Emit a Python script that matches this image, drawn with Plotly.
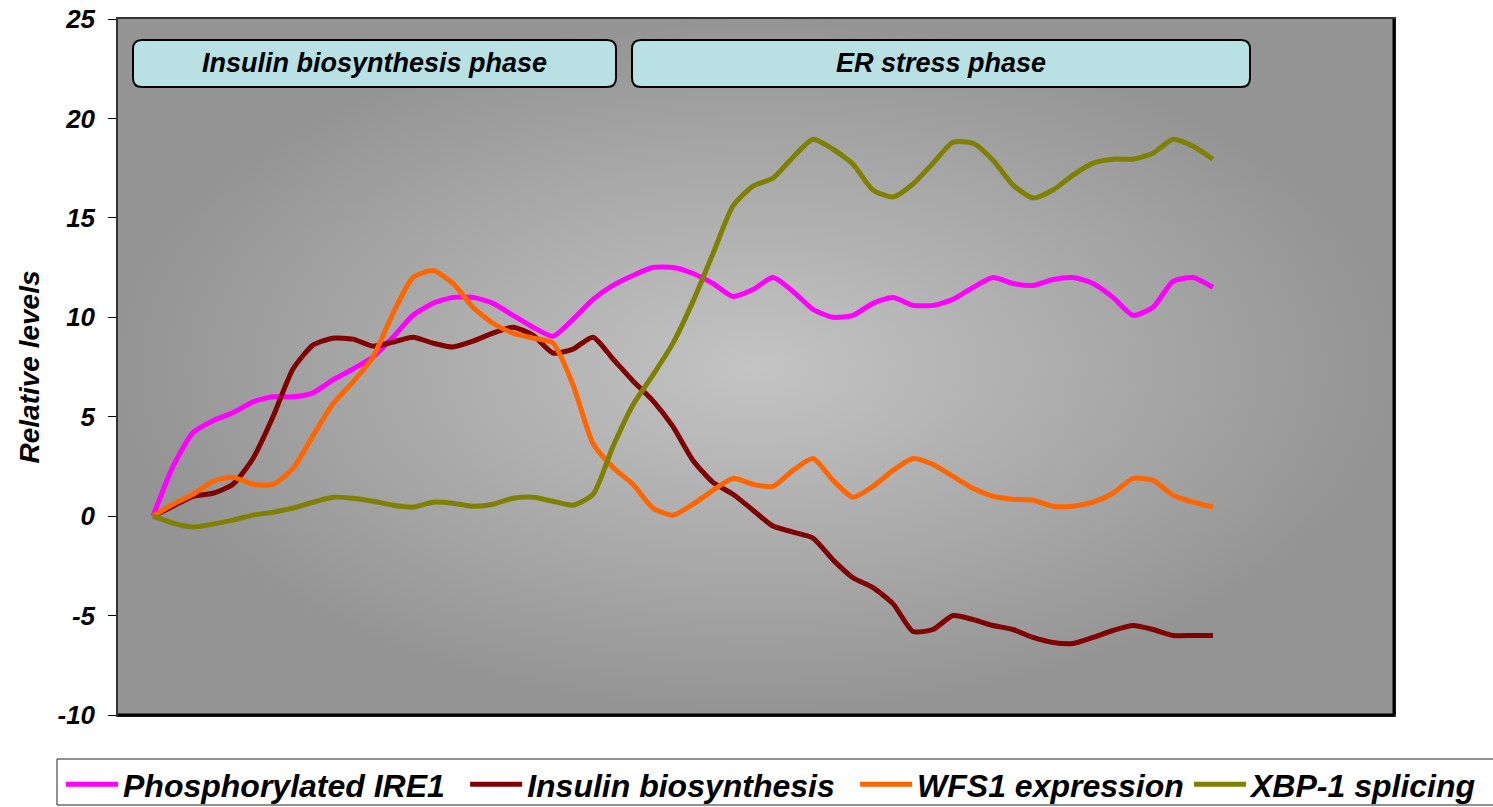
import plotly.graph_objects as go

# Time points (arbitrary units, evenly spaced)
t = list(range(54))

ire1 = [0, 2.5, 4.2, 4.8, 5.2, 5.75, 6.0, 6.0, 6.2, 6.85, 7.4, 8.0, 9.0, 10.1, 10.7, 11.0,
        11.0, 10.7, 10.1, 9.5, 9.05, 9.9, 10.9, 11.6, 12.1, 12.5, 12.5, 12.2, 11.7, 11.05,
        11.4, 12.0, 11.3, 10.4, 10.0, 10.1, 10.7, 11.0, 10.6, 10.6, 10.9, 11.5, 12.0, 11.7,
        11.6, 11.9, 12.0, 11.7, 11.0, 10.1, 10.5, 11.8, 12.0, 11.5]

insulin = [0, 0.5, 1.0, 1.15, 1.6, 2.9, 5.0, 7.4, 8.6, 8.95, 8.9, 8.55, 8.75, 9.0, 8.7, 8.5,
           8.8, 9.2, 9.5, 9.1, 8.2, 8.4, 9.0, 7.9, 6.8, 5.8, 4.5, 2.8, 1.7, 1.1,
           0.3, -0.5, -0.8, -1.1, -2.2, -3.1, -3.6, -4.4, -5.8, -5.7, -5.0, -5.2, -5.5, -5.7,
           -6.1, -6.35, -6.4, -6.1, -5.75, -5.5, -5.7, -6.0, -6.0, -6.0]

wfs1 = [0, 0.6, 1.1, 1.75, 1.95, 1.6, 1.6, 2.4, 4.05, 5.65, 6.75, 8.0, 10.2, 12.0, 12.35, 11.7,
        10.5, 9.7, 9.2, 8.95, 8.7, 6.6, 3.65, 2.45, 1.6, 0.4, 0.05, 0.6, 1.3, 1.9,
        1.6, 1.5, 2.3, 2.9, 1.8, 0.95, 1.5, 2.3, 2.9, 2.6, 2.0, 1.4, 1.0, 0.85,
        0.8, 0.5, 0.5, 0.7, 1.15, 1.9, 1.8, 1.05, 0.7, 0.45]

xbp1 = [0, -0.35, -0.55, -0.4, -0.2, 0.05, 0.2, 0.4, 0.7, 0.95, 0.9, 0.75, 0.55, 0.45, 0.7, 0.65,
        0.5, 0.6, 0.9, 0.95, 0.75, 0.55, 1.1, 3.5, 5.6, 7.1, 8.7, 10.8, 13.2, 15.6,
        16.6, 17.0, 18.05, 18.95, 18.45, 17.7, 16.4, 16.05, 16.7, 17.75, 18.8, 18.75, 17.9, 16.65,
        16.0, 16.4, 17.15, 17.75, 17.95, 17.95, 18.25, 18.95, 18.6, 17.95]

series = [
    ("Phosphorylated IRE1", ire1, "#FF00FF"),
    ("Insulin biosynthesis", insulin, "#800000"),
    ("WFS1 expression", wfs1, "#FF6600"),
    ("XBP-1 splicing", xbp1, "#808000"),
]

phases = ["Insulin biosynthesis phase", "ER stress phase"]

W, H = 1493, 807
ML, MR, MT, MB = 118, 99, 19, 92
PW, PH = W - ML - MR, H - MT - MB

X_RANGE = [-1.75, 62.05]
Y_RANGE = [-10, 25]

FONT = "Liberation Sans, Arial, sans-serif"
BI = dict(family=FONT, color="black", weight="bold", style="italic")


def px_to_paper(x, y):
    return (x - ML) / PW, (H - MB - y) / PH


fig = go.Figure()

# shaded plot background with a radial gradient
fig.add_trace(go.Scatter(
    x=[X_RANGE[0], X_RANGE[1], X_RANGE[1], X_RANGE[0], X_RANGE[0]],
    y=[Y_RANGE[0], Y_RANGE[0], Y_RANGE[1], Y_RANGE[1], Y_RANGE[0]],
    mode="lines", line=dict(width=0), fill="toself",
    fillgradient=dict(type="radial",
                      colorscale=[[0, "#c4c4c4"], [1, "#949494"]]),
    hoverinfo="skip", showlegend=False,
))

# the last entry sits in its own legend so the row can run to the page edge
for k, (name, vals, color) in enumerate(series):
    last = k == len(series) - 1
    fig.add_trace(go.Scatter(
        x=t, y=vals, name=name if last else name + "\u00a0\u2009", mode="lines",
        legend="legend2" if last else "legend",
        line=dict(color=color, width=5, shape="spline", smoothing=0.6),
    ))


def rounded_box(x0, y0, x1, y1, r):
    p = lambda x, y: "%.5f,%.5f" % px_to_paper(x, y)
    return (f"M {p(x0 + r, y0)} L {p(x1 - r, y0)} Q {p(x1, y0)} {p(x1, y0 + r)} "
            f"L {p(x1, y1 - r)} Q {p(x1, y1)} {p(x1 - r, y1)} "
            f"L {p(x0 + r, y1)} Q {p(x0, y1)} {p(x0, y1 - r)} "
            f"L {p(x0, y0 + r)} Q {p(x0, y0)} {p(x0 + r, y0)} Z")


boxes = [(133, 40, 616, 87), (632, 40, 1250, 87)]
for (x0, y0, x1, y1), label in zip(boxes, phases):
    fig.add_shape(type="path", xref="paper", yref="paper",
                  path=rounded_box(x0, y0, x1, y1, 9),
                  fillcolor="#b9e0e3", line=dict(color="black", width=2))
    cx, cy = px_to_paper((x0 + x1) / 2, (y0 + y1) / 2)
    fig.add_annotation(x=cx, y=cy, xref="paper", yref="paper", text=label,
                       showarrow=False, xanchor="center", yanchor="middle",
                       font=dict(BI, size=27))

# heavier right and bottom frame edges
fig.add_shape(type="line", xref="paper", yref="paper", x0=1, x1=1, y0=0, y1=1,
              line=dict(color="black", width=3))
fig.add_shape(type="line", xref="paper", yref="paper", x0=0, x1=1, y0=0, y1=0,
              line=dict(color="black", width=3))

# frame around the legend row (runs past the right page edge)
bx0, by0 = px_to_paper(57, 759)
bx1, by1 = px_to_paper(1510, 805)
fig.add_shape(type="rect", xref="paper", yref="paper", x0=bx0, y0=by1, x1=bx1, y1=by0,
              line=dict(color="#222222", width=1), fillcolor="white", layer="below")

l1x, ly = px_to_paper(61, 757)
l2x, _ = px_to_paper(1189, 757)
legend_common = dict(orientation="h", xanchor="left", yanchor="top", y=ly,
                     bgcolor="rgba(0,0,0,0)", borderwidth=0,
                     font=dict(BI, size=32), itemwidth=52)

fig.update_layout(
    width=W, height=H,
    margin=dict(l=ML, r=MR, t=MT, b=MB, pad=0, autoexpand=False),
    paper_bgcolor="white", plot_bgcolor="#a0a0a0",
    font=dict(family=FONT, color="black"),
    xaxis=dict(range=X_RANGE, showticklabels=False, ticks="", showgrid=False,
               zeroline=False, showline=True, linecolor="#333333", linewidth=1.5,
               mirror=True),
    yaxis=dict(range=Y_RANGE, tickmode="array", tickvals=[-10, -5, 0, 5, 10, 15, 20, 25],
               ticktext=["-10", "-5", "0", "5", "10", "15", "20", "25"],
               ticks="outside", ticklen=8, tickcolor="black", tickwidth=1,
               ticklabelstandoff=8,
               tickfont=dict(BI, size=26),
               showgrid=False, zeroline=True, zerolinecolor="black", zerolinewidth=1,
               showline=True, linecolor="#333333", linewidth=1.5, mirror=True,
               title=dict(text="Relative levels", standoff=10, font=dict(BI, size=28))),
    legend=dict(legend_common, x=l1x),
    legend2=dict(legend_common, x=l2x),
    showlegend=True,
)

fig.write_html("out.html")
